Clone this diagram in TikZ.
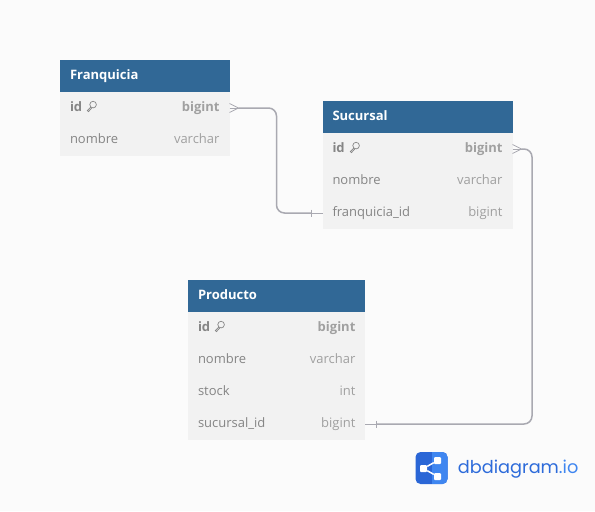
\documentclass[tikz,border=0pt]{standalone}
\usepackage{fontspec}
\setmainfont{Open Sans}
\newfontfamily\logofont{Poppins}
\usetikzlibrary{positioning,calc}
\newdimen\px
\px=0.75pt
\definecolor{pagebg}{HTML}{FBFBFB}
\definecolor{headblue}{HTML}{316896}
\definecolor{rowgray}{HTML}{F2F2F2}
\definecolor{namegray}{HTML}{858585}
\definecolor{typegray}{HTML}{A0A0A0}
\definecolor{linkgray}{HTML}{A9A9B1}
\definecolor{logodark}{HTML}{2A66D6}
\definecolor{logolight}{HTML}{3F86F0}
\newcommand{\typetxt}[1]{\hfill\textcolor{typegray}{#1}}
\tikzset{
  headbox/.style={anchor=north west, fill=headblue, text=white, font=\fontsize{13\px}{15\px}\selectfont\bfseries,
                  minimum height=32\px, text width=#1, inner xsep=10\px, inner ysep=0pt, outer sep=0pt,
                  text height=9.5\px, text depth=3\px},
  rowbox/.style={fill=rowgray, text=namegray, font=\fontsize{13\px}{15\px}\selectfont,
                 minimum height=32\px, text width=#1, inner xsep=10\px, inner ysep=0pt, outer sep=0pt,
                 text height=9.5\px, text depth=3\px},
  keybox/.style={rowbox=#1, font=\fontsize{13\px}{15\px}\selectfont\bfseries},
  linkline/.style={draw=linkgray, line width=1.5\px, rounded corners=8\px},
  linkthin/.style={draw=linkgray, line width=0.8\px},
  logodot/.style={fill=white, rounded corners=1\px, minimum size=7\px, inner sep=0pt},
  keyicon/.pic={
    \draw[namegray, line width=0.7\px] (1.6,-1.4) circle (3.3\px);
    \draw[namegray, line width=0.7\px] (-0.7,1) -- (-4.2,4.6) -- (-3,5.6) -- (0.4,1.8);
  },
}
\begin{document}
\begin{tikzpicture}[x=1\px,y=-1\px]
\fill[pagebg] (0,0) rectangle (595,511);
\useasboundingbox (0,0) rectangle (595,511);
% Franquicia
\node[headbox=149.5\px] (franq) at (60,60) {Franquicia};
\node[keybox=149.5\px, below=0pt of franq] (franqid) {id\typetxt{bigint}};
\node[rowbox=149.5\px, below=0pt of franqid] (franqnom) {nombre\typetxt{varchar}};
\pic at (91.5,106) {keyicon};
% Sucursal
\node[headbox=170\px] (suc) at (322.5,101) {Sucursal};
\node[keybox=170\px, below=0pt of suc] (sucid) {id\typetxt{bigint}};
\node[rowbox=170\px, below=0pt of sucid] (sucnom) {nombre\typetxt{varchar}};
\node[rowbox=170\px, below=0pt of sucnom] (sucfk) {franquicia\_id\typetxt{bigint}};
\pic at (354.5,147) {keyicon};
% Producto
\node[headbox=157.4\px] (prod) at (188,280) {Producto};
\node[keybox=157.4\px, below=0pt of prod] (prodid) {id\typetxt{bigint}};
\node[rowbox=157.4\px, below=0pt of prodid] (prodnom) {nombre\typetxt{varchar}};
\node[rowbox=157.4\px, below=0pt of prodnom] (prodstock) {stock\typetxt{int}};
\node[rowbox=157.4\px, below=0pt of prodstock] (prodfk) {sucursal\_id\typetxt{bigint}};
\pic at (219.5,326) {keyicon};
% relaciones
\coordinate (bendA) at (276.5,0);
\coordinate (bendB) at (532,0);
\draw[linkline] ($(franqid.east)+(9,0)$) -- (bendA |- franqid.east) -- (bendA |- sucfk.west) -- ($(sucfk.west)+(-11,0)$);
\draw[linkthin] ($(franqid.east)+(0,-4.5)$) -- ($(franqid.east)+(9,0)$) -- ($(franqid.east)+(0,4.5)$);
\draw[linkthin] (franqid.east) -- ($(franqid.east)+(9,0)$);
\draw[linkthin] ($(sucfk.west)+(-11,0)$) -- (sucfk.west);
\draw[linkthin] ($(sucfk.west)+(-11,-3.5)$) -- ($(sucfk.west)+(-11,3.5)$);
\draw[linkline] ($(sucid.east)+(9,0)$) -- (bendB |- sucid.east) -- (bendB |- prodfk.east) -- ($(prodfk.east)+(11,0)$);
\draw[linkthin] ($(sucid.east)+(0,-4.5)$) -- ($(sucid.east)+(9,0)$) -- ($(sucid.east)+(0,4.5)$);
\draw[linkthin] (sucid.east) -- ($(sucid.east)+(9,0)$);
\draw[linkthin] ($(prodfk.east)+(11,0)$) -- (prodfk.east);
\draw[linkthin] ($(prodfk.east)+(11,-3.5)$) -- ($(prodfk.east)+(11,3.5)$);
% logo
\node[fill=logodark, rounded corners=5\px, minimum size=32\px, inner sep=0pt, outer sep=0pt] (logobox) at (431.5,468) {};
\begin{scope}
  \clip[rounded corners=5\px] (logobox.south west) rectangle (logobox.north east);
  \fill[logolight] (logobox.north) rectangle (logobox.south east);
\end{scope}
\node[logodot] (logoa) at (423.5,468.5) {};
\node[logodot] (logob) at (437.5,460.5) {};
\node[logodot] (logoc) at (437.5,476.5) {};
\draw[white, line width=1.5\px] (logob) -- (logoa) -- (logoc);
\node[anchor=west, inner sep=0pt, text=logodark!85!logolight, font=\logofont\fontsize{17.7\px}{20\px}\selectfont] (logotxt) at (457.7,469.5) {dbdiagram\textcolor{logolight}{.io}};
\end{tikzpicture}
\end{document}
